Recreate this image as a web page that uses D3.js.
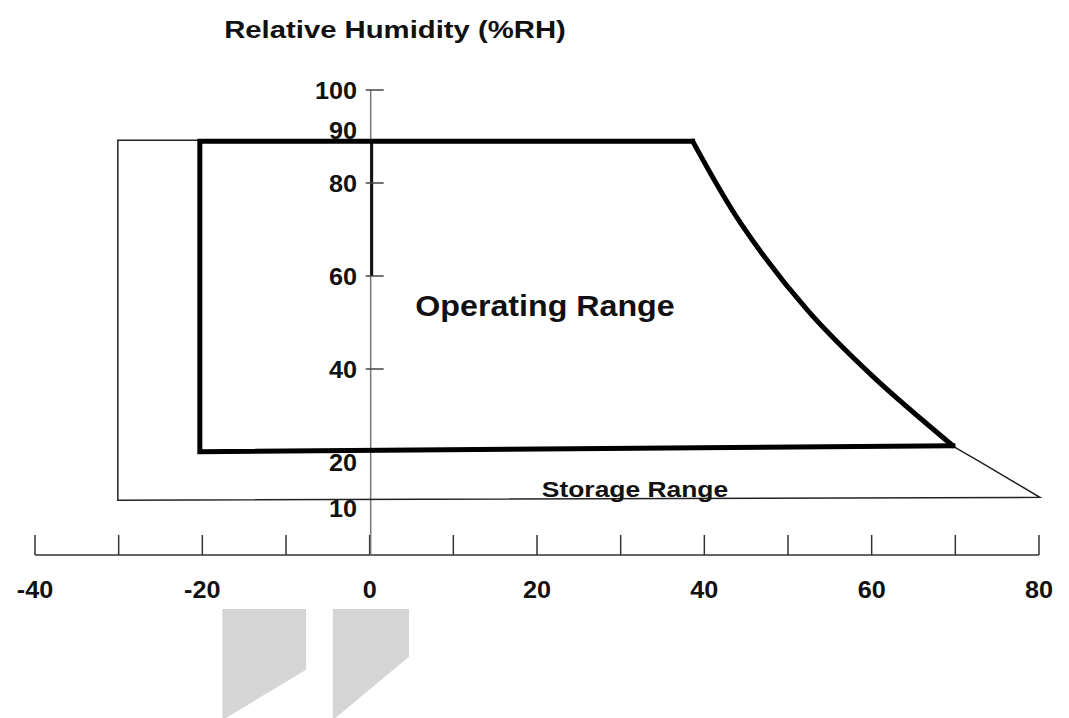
<!DOCTYPE html>
<html>
<head>
<meta charset="utf-8">
<script src="https://cdn.jsdelivr.net/npm/d3@7"></script>
<style>
  body { margin: 0; background: #fff; }
  text { font-family: "Liberation Sans", Arial, sans-serif; font-weight: bold; fill: #111; }
</style>
</head>
<body>
<div id="chart"></div>
<script>
// temperature (C) ticks and labels
const xTicks = [-40, -30, -20, -10, 0, 10, 20, 30, 40, 50, 60, 70, 80]
const xLabels = [-40, -20, 0, 20, 40, 60, 80]
// humidity ticks and labels
const yTicks = [100, 80, 60, 40]
const yLabels = [100, 90, 80, 60, 40, 20, 10]

// operating range: straight edges [temp, RH]
const operatingEdges = [[69.7, 23.5], [-20.3, 22.2], [-20.3, 89], [38.6, 89]]
// operating range: curved high-temperature edge
const operatingCurve = [[38.6, 89], [44.4, 71.2], [52.3, 52.7], [60.2, 38.3], [69.7, 23.5]]
// storage range outline (shares top & right with operating)
const storage = [[-20.3, 89.2], [-30.1, 89.2], [-30.1, 11.8], [80.1, 12.4], [72.6, 20.4], [69.7, 23.4]]

// grey decorations below the axis
const shapes = [
    [[-17.6, -11.6], [-7.6, -11.6], [-7.6, -24.7], [-17.6, -35.5]],
    [[-4.4, -11.6], [4.7, -11.6], [4.7, -21.9], [-4.4, -35.5]]
]

const width = 1069, height = 718

const svg = d3.select("#chart").append("svg")
    .attr("width", width)
    .attr("height", height)

const x = d3.scaleLinear().domain([-40, 80]).range([35, 1039])
const y = d3.scaleLinear().domain([0, 100]).range([555, 90])

const line = d3.line().x(d => x(d[0])).y(d => y(d[1]))

// stretch text horizontally (the original lettering is a bit wide)
function stretch(sel, factor) {
    sel.each(function() {
        let w = this.getComputedTextLength()
        d3.select(this).attr("textLength", w * factor).attr("lengthAdjust", "spacingAndGlyphs")
    })
}

// grey shapes
svg.selectAll(".deco")
    .data(shapes)
    .enter().append("path")
    .attr("class", "deco")
    .attr("d", d => line(d) + "Z")
    .attr("fill", "#d5d5d5")

// title
svg.append("text")
    .attr("x", 395)
    .attr("y", 38)
    .attr("text-anchor", "middle")
    .style("font-size", "24px")
    .text("Relative Humidity (%RH)")
    .call(stretch, 1.22)

// x axis
const xg = svg.append("g")
xg.append("line")
    .attr("x1", x(-40)).attr("x2", x(80))
    .attr("y1", y(0)).attr("y2", y(0))
    .attr("stroke", "#333").attr("stroke-width", 1.5)
xg.selectAll(".xtick")
    .data(xTicks)
    .enter().append("line")
    .attr("x1", d => x(d)).attr("x2", d => x(d))
    .attr("y1", y(0)).attr("y2", y(0) - 20)
    .attr("stroke", "#333").attr("stroke-width", 1.5)
xg.selectAll(".xlabel")
    .data(xLabels)
    .enter().append("text")
    .attr("x", d => x(d))
    .attr("y", 598)
    .attr("text-anchor", "middle")
    .style("font-size", "24px")
    .text(d => d)
    .call(stretch, 1.05)

// y axis
const yg = svg.append("g")
yg.append("line")
    .attr("x1", x(0) + 1).attr("x2", x(0) + 1)
    .attr("y1", y(100)).attr("y2", y(0))
    .attr("stroke", "#777").attr("stroke-width", 1.5)
yg.append("line")
    .attr("x1", x(0) + 2).attr("x2", x(0) + 2)
    .attr("y1", y(89)).attr("y2", y(60))
    .attr("stroke", "#111").attr("stroke-width", 3)
yg.selectAll(".ytick")
    .data(yTicks)
    .enter().append("line")
    .attr("x1", x(0) - 4).attr("x2", x(0) + 14)
    .attr("y1", d => y(d)).attr("y2", d => y(d))
    .attr("stroke", "#444").attr("stroke-width", 1.5)
yg.selectAll(".ylabel")
    .data(yLabels)
    .enter().append("text")
    .attr("x", 357)
    .attr("y", d => y(d) + (d === 90 ? -6 : 0))
    .attr("dy", "0.36em")
    .attr("text-anchor", "end")
    .style("font-size", "24px")
    .text(d => d)
    .call(stretch, 1.05)

// storage range (thin)
svg.append("path")
    .attr("d", line(storage))
    .attr("fill", "none")
    .attr("stroke", "#222")
    .attr("stroke-width", 1.5)

// operating range (thick)
svg.append("path")
    .attr("d", line(operatingEdges))
    .attr("fill", "none")
    .attr("stroke", "#000")
    .attr("stroke-width", 5)
    .attr("stroke-linecap", "square")

svg.append("path")
    .attr("d", d3.line().x(d => x(d[0])).y(d => y(d[1])).curve(d3.curveCatmullRom.alpha(0.5))(operatingCurve))
    .attr("fill", "none")
    .attr("stroke", "#000")
    .attr("stroke-width", 5)
    .attr("stroke-linecap", "round")

svg.append("text")
    .attr("x", 545)
    .attr("y", 316)
    .attr("text-anchor", "middle")
    .style("font-size", "29px")
    .text("Operating Range")
    .call(stretch, 1.11)

svg.append("text")
    .attr("x", 635)
    .attr("y", 497)
    .attr("text-anchor", "middle")
    .style("font-size", "22px")
    .text("Storage Range")
    .call(stretch, 1.2)
</script>
</body>
</html>
